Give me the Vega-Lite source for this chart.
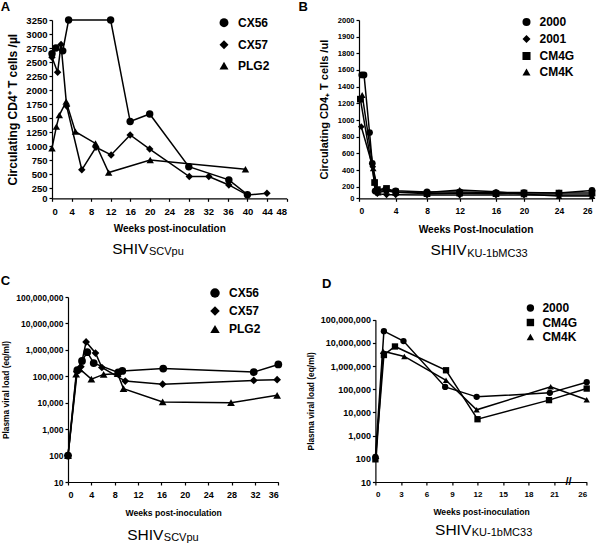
{
  "$schema": "https://vega.github.io/schema/vega-lite/v6.json",
  "background": "white",
  "padding": {"left": 0, "top": 0, "right": 0, "bottom": 0},
  "config": {
    "view": {"stroke": null},
    "font": "Liberation Sans",
    "axis": {"labelFont": "Liberation Sans", "labelFontWeight": "bold", "labelColor": "black", "titleFont": "Liberation Sans", "titleFontWeight": "bold", "titleColor": "black", "domainColor": "black", "tickColor": "black", "tickSize": 3, "grid": false, "domainWidth": 1.2, "tickWidth": 1.2, "labelPadding": 2},
    "legend": {"orient": "none", "title": null, "labelFont": "Liberation Sans", "labelFontWeight": "bold", "labelColor": "black", "labelFontSize": 12, "padding": 0, "symbolFillColor": "black", "symbolStrokeColor": "black"},
    "title": {"font": "Liberation Sans", "color": "black", "subtitleFont": "Liberation Sans", "subtitleColor": "black"},
    "line": {"color": "black", "strokeWidth": 1.5},
    "point": {"color": "black", "filled": true, "opacity": 1}
  },
  "datasets": {
    "A": [
      {"id": "CX56", "week": 0, "value": 2650}, {"id": "CX56", "week": 0.8, "value": 2750}, {"id": "CX56", "week": 2.2, "value": 2700}, {"id": "CX56", "week": 3.4, "value": 3250}, {"id": "CX56", "week": 12, "value": 3250}, {"id": "CX56", "week": 16, "value": 1440}, {"id": "CX56", "week": 20, "value": 1575}, {"id": "CX56", "week": 28, "value": 635}, {"id": "CX56", "week": 36.2, "value": 400}, {"id": "CX56", "week": 40, "value": 90},
      {"id": "CX57", "week": 0, "value": 2585}, {"id": "CX57", "week": 1.15, "value": 2320}, {"id": "CX57", "week": 1.85, "value": 2815}, {"id": "CX57", "week": 3, "value": 1715}, {"id": "CX57", "week": 6.1, "value": 580}, {"id": "CX57", "week": 9, "value": 980}, {"id": "CX57", "week": 12.1, "value": 845}, {"id": "CX57", "week": 16, "value": 1200}, {"id": "CX57", "week": 20, "value": 950}, {"id": "CX57", "week": 28.1, "value": 460}, {"id": "CX57", "week": 32.1, "value": 460}, {"id": "CX57", "week": 36.2, "value": 310}, {"id": "CX57", "week": 40, "value": 80}, {"id": "CX57", "week": 44, "value": 125},
      {"id": "PLG2", "week": 0, "value": 965}, {"id": "PLG2", "week": 0.9, "value": 1350}, {"id": "PLG2", "week": 1.5, "value": 1555}, {"id": "PLG2", "week": 2.9, "value": 1795}, {"id": "PLG2", "week": 4.8, "value": 1260}, {"id": "PLG2", "week": 8.9, "value": 1050}, {"id": "PLG2", "week": 11.6, "value": 530}, {"id": "PLG2", "week": 20.1, "value": 755}, {"id": "PLG2", "week": 39.6, "value": 590}
    ],
    "B": [
      {"id": "2000", "week": 0.3, "value": 1540}, {"id": "2000", "week": 0.55, "value": 1540}, {"id": "2000", "week": 1.15, "value": 850}, {"id": "2000", "week": 1.45, "value": 480}, {"id": "2000", "week": 1.75, "value": 125}, {"id": "2000", "week": 2.9, "value": 150}, {"id": "2000", "week": 4, "value": 130}, {"id": "2000", "week": 8, "value": 110}, {"id": "2000", "week": 12, "value": 110}, {"id": "2000", "week": 16, "value": 100}, {"id": "2000", "week": 20, "value": 100}, {"id": "2000", "week": 24, "value": 90}, {"id": "2000", "week": 26, "value": 135},
      {"id": "2001", "week": 0.25, "value": 920}, {"id": "2001", "week": 1.5, "value": 440}, {"id": "2001", "week": 2, "value": 80}, {"id": "2001", "week": 3, "value": 60}, {"id": "2001", "week": 4, "value": 60}, {"id": "2001", "week": 8, "value": 55}, {"id": "2001", "week": 12, "value": 55}, {"id": "2001", "week": 16, "value": 55}, {"id": "2001", "week": 20, "value": 55}, {"id": "2001", "week": 24, "value": 55}, {"id": "2001", "week": 26, "value": 55},
      {"id": "CM4G", "week": 0.15, "value": 1250}, {"id": "CM4G", "week": 1.7, "value": 250}, {"id": "CM4G", "week": 2, "value": 150}, {"id": "CM4G", "week": 3, "value": 170}, {"id": "CM4G", "week": 4, "value": 110}, {"id": "CM4G", "week": 8, "value": 80}, {"id": "CM4G", "week": 12, "value": 90}, {"id": "CM4G", "week": 16, "value": 80}, {"id": "CM4G", "week": 20, "value": 90}, {"id": "CM4G", "week": 24, "value": 90}, {"id": "CM4G", "week": 26, "value": 90},
      {"id": "CM4K", "week": 0.35, "value": 1300}, {"id": "CM4K", "week": 1.55, "value": 420}, {"id": "CM4K", "week": 2.1, "value": 100}, {"id": "CM4K", "week": 3, "value": 130}, {"id": "CM4K", "week": 4, "value": 100}, {"id": "CM4K", "week": 8, "value": 100}, {"id": "CM4K", "week": 12, "value": 145}, {"id": "CM4K", "week": 16, "value": 115}, {"id": "CM4K", "week": 20, "value": 70}, {"id": "CM4K", "week": 24, "value": 40}, {"id": "CM4K", "week": 26, "value": 40}
    ],
    "C": [
      {"id": "CX56", "week": 0, "value": 100}, {"id": "CX56", "week": 1.6, "value": 170000}, {"id": "CX56", "week": 2.4, "value": 380000}, {"id": "CX56", "week": 3.3, "value": 820000}, {"id": "CX56", "week": 4.4, "value": 316000}, {"id": "CX56", "week": 8.6, "value": 140000}, {"id": "CX56", "week": 9.3, "value": 160000}, {"id": "CX56", "week": 16.3, "value": 195000}, {"id": "CX56", "week": 31.8, "value": 145000}, {"id": "CX56", "week": 36, "value": 280000},
      {"id": "CX57", "week": 0, "value": 100}, {"id": "CX57", "week": 1.5, "value": 150000}, {"id": "CX57", "week": 2.2, "value": 230000}, {"id": "CX57", "week": 3.1, "value": 2000000}, {"id": "CX57", "week": 4.7, "value": 760000}, {"id": "CX57", "week": 5.8, "value": 215000}, {"id": "CX57", "week": 9.8, "value": 66000}, {"id": "CX57", "week": 16.2, "value": 50000}, {"id": "CX57", "week": 31.8, "value": 70000}, {"id": "CX57", "week": 35.8, "value": 74000},
      {"id": "PLG2", "week": 0, "value": 100}, {"id": "PLG2", "week": 1.4, "value": 120000}, {"id": "PLG2", "week": 2, "value": 190000}, {"id": "PLG2", "week": 4, "value": 78000}, {"id": "PLG2", "week": 6.1, "value": 118000}, {"id": "PLG2", "week": 8.5, "value": 125000}, {"id": "PLG2", "week": 9.5, "value": 34000}, {"id": "PLG2", "week": 16.2, "value": 10700}, {"id": "PLG2", "week": 27.9, "value": 10000}, {"id": "PLG2", "week": 35.8, "value": 19000}
    ],
    "D": [
      {"id": "2000", "week": 0, "value": 120}, {"id": "2000", "week": 1, "value": 32000000}, {"id": "2000", "week": 3.3, "value": 12000000}, {"id": "2000", "week": 8.2, "value": 126000}, {"id": "2000", "week": 11.9, "value": 47000}, {"id": "2000", "week": 20.5, "value": 70000}, {"id": "2000", "week": 26, "value": 200000},
      {"id": "CM4G", "week": 0, "value": 95}, {"id": "CM4G", "week": 1, "value": 3000000}, {"id": "CM4G", "week": 2.3, "value": 7000000}, {"id": "CM4G", "week": 8.3, "value": 660000}, {"id": "CM4G", "week": 12, "value": 5100}, {"id": "CM4G", "week": 20.4, "value": 34000}, {"id": "CM4G", "week": 26, "value": 107000},
      {"id": "CM4K", "week": 0.1, "value": 130}, {"id": "CM4K", "week": 0.9, "value": 4400000}, {"id": "CM4K", "week": 3.4, "value": 2600000}, {"id": "CM4K", "week": 8.3, "value": 245000}, {"id": "CM4K", "week": 11.9, "value": 13000}, {"id": "CM4K", "week": 20.6, "value": 127000}, {"id": "CM4K", "week": 26, "value": 35000}
    ],
    "Dbreak": [{"week": 23.2, "value": 10, "t": "//"}]
  },
  "columns": 1,
  "align": "none",
  "spacing": 15,
  "resolve": {"scale": {"x": "independent", "y": "independent", "shape": "independent"}, "legend": {"shape": "independent"}},
  "concat": [
    {
      "spacing": 10,
      "resolve": {"scale": {"x": "independent", "y": "independent", "shape": "independent"}, "legend": {"shape": "independent"}},
      "hconcat": [
        {
          "width": 234.5, "height": 178.3,
          "data": {"name": "A"},
          "title": {"text": "SHIV", "subtitle": "\u200b\u00a0\u00a0\u00a0\u00a0\u00a0\u00a0\u00a0\u00a0\u00a0\u00a0\u00a0\u00a0SCVpu", "orient": "bottom", "anchor": "middle", "frame": "group", "align": "left", "dx": -57, "fontSize": 15.5, "fontWeight": "normal", "subtitleFontSize": 11, "subtitlePadding": -11, "offset": 8},
          "resolve": {"axis": {"x": "independent"}},
          "encoding": {
            "y": {"field": "value", "type": "quantitative", "scale": {"domain": [0, 250, 3250], "range": [178.3, 168.3, 0]}, "axis": {"values": [0, 250, 500, 750, 1000, 1250, 1500, 1750, 2000, 2250, 2500, 2750, 3000, 3250], "format": "d", "title": "Circulating CD4⁺ T cells /µl", "titleFontSize": 12, "labelFontSize": 9.5, "titlePadding": 6}}
          },
          "layer": [
            {"mark": {"type": "line"}, "encoding": {"x": {"field": "week", "type": "quantitative", "scale": {"domain": [0, 48], "nice": false}, "axis": {"values": [0, 4, 8, 12, 16, 20, 24, 28, 32, 36, 40, 44, 48], "title": "Weeks post-inoculation", "titleFontSize": 10, "labelFontSize": 9.5, "labelPadding": 5, "titlePadding": 8}}, "detail": {"field": "id"}}},
            {"mark": {"type": "point", "filled": true, "size": 55}, "encoding": {"x": {"field": "week", "type": "quantitative", "scale": {"domain": [0, 48], "nice": false}, "axis": {"orient": "top", "title": "A", "labels": false, "ticks": false, "domain": false, "titleX": -51.7, "titleY": -19.8, "titleAlign": "left", "titleBaseline": "top", "titleAngle": 0, "titleFontSize": 13}}, "shape": {"field": "id", "type": "nominal", "scale": {"domain": ["CX56", "CX57", "PLG2"], "range": ["circle", "diamond", "triangle-up"]}, "legend": {"legendX": 166, "legendY": -3.3, "symbolSize": 80, "rowPadding": 6, "labelOffset": 8}}}}
          ]
        },
        {
          "width": 233, "height": 178.3,
          "data": {"name": "B"},
          "title": {"text": "SHIV", "subtitle": "\u200b\u00a0\u00a0\u00a0\u00a0\u00a0\u00a0\u00a0\u00a0\u00a0\u00a0\u00a0\u00a0KU-1bMC33", "orient": "bottom", "anchor": "middle", "frame": "group", "align": "left", "dx": -45, "fontSize": 15.5, "fontWeight": "normal", "subtitleFontSize": 11, "subtitlePadding": -11, "offset": 8},
          "resolve": {"axis": {"x": "independent"}},
          "encoding": {
            "y": {"field": "value", "type": "quantitative", "scale": {"domain": [0, 200, 1800, 2000], "range": [178.3, 166.7, 33.3, 0]}, "axis": {"values": [0, 200, 400, 600, 800, 1000, 1200, 1400, 1600, 1800, 1900, 2000], "format": "d", "title": "Circulating CD4₊ T cells /ul", "titleFontSize": 11, "labelFontSize": 7.5, "titlePadding": 8}}
          },
          "layer": [
            {"mark": {"type": "line"}, "encoding": {"x": {"field": "week", "type": "quantitative", "scale": {"domain": [0, 4, 8, 12, 16, 20, 24, 26], "range": [0, 36.7, 68, 100.7, 137, 165, 200, 233]}, "axis": {"values": [0, 4, 8, 12, 16, 20, 24, 26], "title": "Weeks Post-Inoculation", "titleFontSize": 10.2, "labelFontSize": 8.5, "labelPadding": 5, "titlePadding": 10}}, "detail": {"field": "id"}}},
            {"mark": {"type": "point", "filled": true, "size": 45}, "encoding": {"x": {"field": "week", "type": "quantitative", "scale": {"domain": [0, 4, 8, 12, 16, 20, 24, 26], "range": [0, 36.7, 68, 100.7, 137, 165, 200, 233]}, "axis": {"orient": "top", "title": "B", "labels": false, "ticks": false, "domain": false, "titleX": -61, "titleY": -19.8, "titleAlign": "left", "titleBaseline": "top", "titleAngle": 0, "titleFontSize": 13}}, "shape": {"field": "id", "type": "nominal", "scale": {"domain": ["2000", "2001", "CM4G", "CM4K"], "range": ["circle", "diamond", "square", "triangle-up"]}, "legend": {"legendX": 161.5, "legendY": -4, "symbolSize": 65, "rowPadding": 1, "labelOffset": 7}}}}
          ]
        }
      ]
    },
    {
      "spacing": 22.4,
      "resolve": {"scale": {"x": "independent", "y": "independent", "shape": "independent"}, "legend": {"shape": "independent"}},
      "hconcat": [
        {
          "width": 226.3, "height": 185,
          "data": {"name": "C"},
          "title": {"text": "SHIV", "subtitle": "\u200b\u00a0\u00a0\u00a0\u00a0\u00a0\u00a0\u00a0\u00a0\u00a0\u00a0\u00a0\u00a0SCVpu", "orient": "bottom", "anchor": "middle", "frame": "group", "align": "left", "dx": -38, "fontSize": 15.5, "fontWeight": "normal", "subtitleFontSize": 11, "subtitlePadding": -11, "offset": 11},
          "resolve": {"axis": {"x": "independent"}},
          "encoding": {
            "y": {"field": "value", "type": "quantitative", "scale": {"type": "log", "domain": [10, 100000000], "nice": false}, "axis": {"offset": -16, "values": [10, 100, 1000, 10000, 100000, 1000000, 10000000, 100000000], "format": ",", "title": "Plasma viral load (eq/ml)", "titleFontSize": 8.4, "labelFontSize": 8.5, "titlePadding": 5}}
          },
          "layer": [
            {"mark": {"type": "line"}, "encoding": {"x": {"field": "week", "type": "quantitative", "scale": {"domain": [0, 36], "range": [16, 226.3], "nice": false}, "axis": {"values": [0, 4, 8, 12, 16, 20, 24, 28, 32, 36], "title": "Weeks post-inoculation", "titleFontSize": 8.6, "labelFontSize": 9, "labelPadding": 5, "titlePadding": 9}}, "detail": {"field": "id"}}},
            {"mark": {"type": "point", "filled": true, "size": 60}, "encoding": {"x": {"field": "week", "type": "quantitative", "scale": {"domain": [0, 36], "range": [16, 226.3], "nice": false}, "axis": {"orient": "top", "title": "C", "labels": false, "ticks": false, "domain": false, "titleX": -51.7, "titleY": -22.5, "titleAlign": "left", "titleBaseline": "top", "titleAngle": 0, "titleFontSize": 13}}, "shape": {"field": "id", "type": "nominal", "scale": {"domain": ["CX56", "CX57", "PLG2"], "range": ["circle", "diamond", "triangle-up"]}, "legend": {"legendX": 157, "legendY": -10, "symbolSize": 90, "rowPadding": 2, "labelOffset": 8}}}}
          ]
        },
        {
          "width": 211.3, "height": 185,
          "title": {"text": "SHIV", "subtitle": "\u200b\u00a0\u00a0\u00a0\u00a0\u00a0\u00a0\u00a0\u00a0\u00a0\u00a0\u00a0\u00a0KU-1bMC33", "orient": "bottom", "anchor": "middle", "frame": "group", "align": "left", "dx": -46, "fontSize": 15.5, "fontWeight": "normal", "subtitleFontSize": 11, "subtitlePadding": -11, "offset": 7},
          "resolve": {"axis": {"x": "independent"}},
          "encoding": {
            "y": {"field": "value", "type": "quantitative", "scale": {"type": "log", "domain": [10, 100000000], "range": [185, 22.7], "nice": false}, "axis": {"values": [10, 100, 1000, 10000, 100000, 1000000, 10000000, 100000000], "format": ",", "title": "Plasma viral load (eq/ml)", "titleFontSize": 8.4, "labelFontSize": 9, "titlePadding": 5}}
          },
          "layer": [
            {"data": {"name": "D"}, "mark": {"type": "line"}, "encoding": {"x": {"field": "week", "type": "quantitative", "scale": {"domain": [0, 21, 26], "range": [0, 178.7, 211.3]}, "axis": {"values": [0, 3, 6, 9, 12, 15, 18, 21, 26], "title": "Weeks post-inoculation", "titleFontSize": 8.6, "labelFontSize": 8, "labelPadding": 5, "titlePadding": 9}}, "detail": {"field": "id"}}},
            {"data": {"name": "D"}, "mark": {"type": "point", "filled": true, "size": 40}, "encoding": {"x": {"field": "week", "type": "quantitative", "scale": {"domain": [0, 21, 26], "range": [0, 178.7, 211.3]}, "axis": {"orient": "top", "title": "D", "labels": false, "ticks": false, "domain": false, "titleX": -54, "titleY": -19.5, "titleAlign": "left", "titleBaseline": "top", "titleAngle": 0, "titleFontSize": 13}}, "shape": {"field": "id", "type": "nominal", "scale": {"domain": ["2000", "CM4G", "CM4K"], "range": ["circle", "square", "triangle-up"]}, "legend": {"legendX": 149, "legendY": 5, "symbolSize": 55, "rowPadding": 0.5, "labelOffset": 6}}}},
            {"data": {"name": "Dbreak"}, "mark": {"type": "text", "fontSize": 11, "fontWeight": "bold", "color": "black"}, "encoding": {"x": {"field": "week", "type": "quantitative", "scale": {"domain": [0, 21, 26], "range": [0, 178.7, 211.3]}, "axis": null}, "text": {"field": "t"}}}
          ]
        }
      ]
    }
  ]
}
